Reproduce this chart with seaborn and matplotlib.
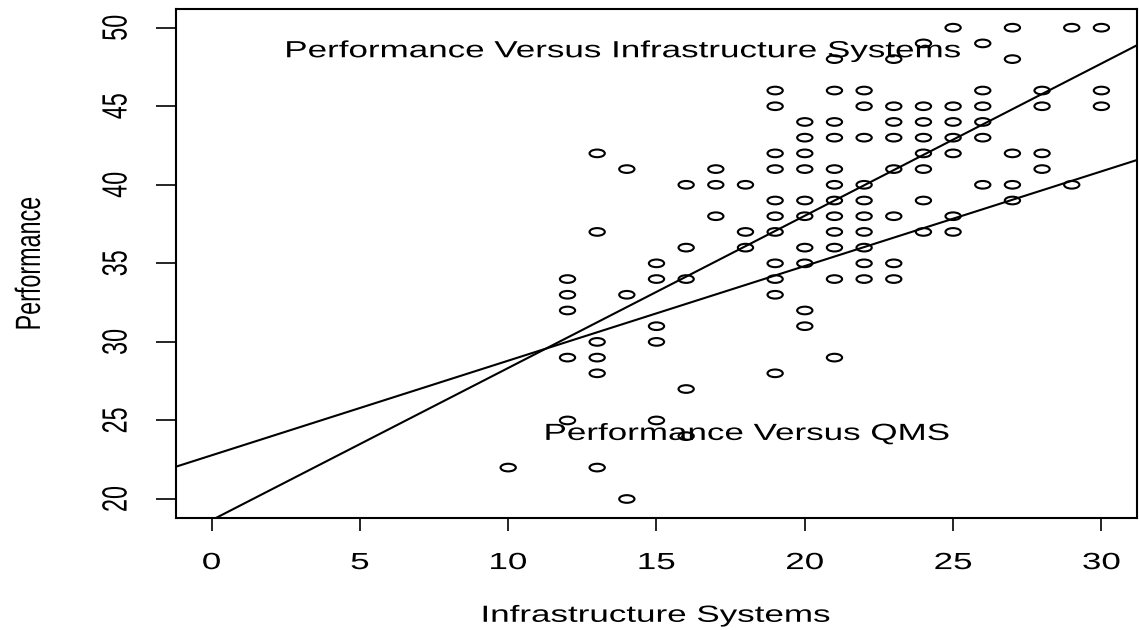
import numpy as np
import pandas as pd
import matplotlib
matplotlib.use("Agg")
import matplotlib.pyplot as plt
import seaborn as sns
from matplotlib.path import Path
from matplotlib.transforms import Affine2D
from matplotlib.patheffects import AbstractPathEffect

# ---------------- data ----------------
infra_values = [10, 12, 13, 14, 15, 16, 17, 18, 19, 20,
                21, 22, 23, 24, 25, 26, 27, 28, 29, 30]
performance_by_infra = [
    [22],
    [34, 33, 32, 29, 25],
    [42, 37, 30, 29, 28, 22],
    [41, 33, 20],
    [35, 34, 31, 30, 25],
    [40, 36, 34, 27, 24],
    [41, 40, 38],
    [40, 37, 36],
    [46, 45, 42, 41, 39, 38, 37, 35, 34, 33, 28],
    [44, 43, 42, 41, 39, 38, 36, 35, 32, 31],
    [48, 46, 44, 43, 41, 40, 39, 38, 37, 36, 34, 29],
    [46, 45, 43, 40, 39, 38, 37, 36, 35, 34],
    [48, 45, 44, 43, 41, 38, 35, 34],
    [49, 45, 44, 43, 42, 41, 39, 37],
    [50, 45, 44, 43, 42, 38, 37],
    [49, 46, 45, 44, 43, 40],
    [50, 48, 42, 40, 39],
    [46, 45, 42, 41],
    [50, 40],
    [50, 46, 45],
]
line_names = ["Performance Versus Infrastructure Systems", "Performance Versus QMS"]
line_intercepts = [18.65, 22.78]
line_slopes = [0.969, 0.6025]
x_ticks = [0, 5, 10, 15, 20, 25, 30]
y_ticks = [20, 25, 30, 35, 40, 45, 50]
x_label = "Infrastructure Systems"
y_label = "Performance"

rows = []
for xv, ys in zip(infra_values, performance_by_infra):
    for yv in ys:
        rows.append((xv, yv))
df = pd.DataFrame(rows, columns=["Infrastructure Systems", "Performance"])

# ---------------- style ----------------
sns.set_style("ticks")
plt.rcParams["font.family"] = ["Liberation Sans", "DejaVu Sans"]
FS = 16.8


class HStretch(AbstractPathEffect):
    """Draw text paths stretched horizontally about their centre."""
    def __init__(self, sx=1.5):
        super().__init__()
        self.sx = sx

    def draw_path(self, renderer, gc, tpath, affine, rgbFace=None):
        ext = tpath.get_extents(affine)
        cx = 0.5 * (ext.x0 + ext.x1)
        new = affine + Affine2D().translate(-cx, 0).scale(self.sx, 1.0).translate(cx, 0)
        renderer.draw_path(gc, tpath, new, rgbFace)


stretch = [HStretch(1.5)]

fig = plt.figure(figsize=(11.39, 6.30), dpi=100)
ax = fig.add_axes([0.15452, 0.17802, 0.84372, 0.80794])

# elliptical open marker (the reference is horizontally stretched)
circ = Path.unit_circle()
ellipse = Path(circ.vertices * np.array([1.0, 0.5]), circ.codes)

sns.scatterplot(data=df, x="Infrastructure Systems", y="Performance", ax=ax,
                marker=ellipse, s=11.0 ** 2, facecolor="none",
                edgecolor="black", linewidth=1.5, legend=False, zorder=3)

for b, m in zip(line_intercepts, line_slopes):
    ax.axline((0, b), slope=m, color="black", lw=1.5, zorder=2)

ax.set_xlim(-1.2, 31.2)
ax.set_ylim(18.8, 51.2)
ax.set_xticks(x_ticks)
ax.set_xticklabels([str(v) for v in x_ticks])
ax.set_yticks(y_ticks)
ax.set_yticklabels([str(v) for v in y_ticks])

for sp in ax.spines.values():
    sp.set_visible(True)
    sp.set_linewidth(1.5)
    sp.set_color("black")

ax.tick_params(axis="x", direction="out", length=9.4, width=1.2, pad=14.5,
               labelsize=FS, colors="black")
ax.tick_params(axis="y", direction="out", length=14.4, width=1.2, pad=20.5,
               labelsize=FS, colors="black", labelrotation=90)
for lab in ax.get_yticklabels():
    lab.set_va("center")
    lab.set_path_effects(stretch)
for lab in ax.get_xticklabels():
    lab.set_path_effects(stretch)

xl = ax.set_xlabel(x_label, fontsize=FS, color="black", va="baseline")
ax.xaxis.set_label_coords(0.5, -0.2042)
xl.set_path_effects(stretch)
yl = ax.set_ylabel(y_label, fontsize=FS, color="black", ha="center", va="center")
ax.yaxis.set_label_coords(-0.1527, 0.5)
yl.set_path_effects(stretch)

# annotations
t1 = ax.text(13.91, 48.12, line_names[0], ha="center", va="baseline",
             fontsize=FS, color="black", zorder=4)
t2 = ax.text(18.07, 23.76, line_names[1], ha="center", va="baseline",
             fontsize=FS, color="black", zorder=4)
t1.set_path_effects(stretch)
t2.set_path_effects(stretch)

fig.savefig("out.png", dpi=100, facecolor="white")
